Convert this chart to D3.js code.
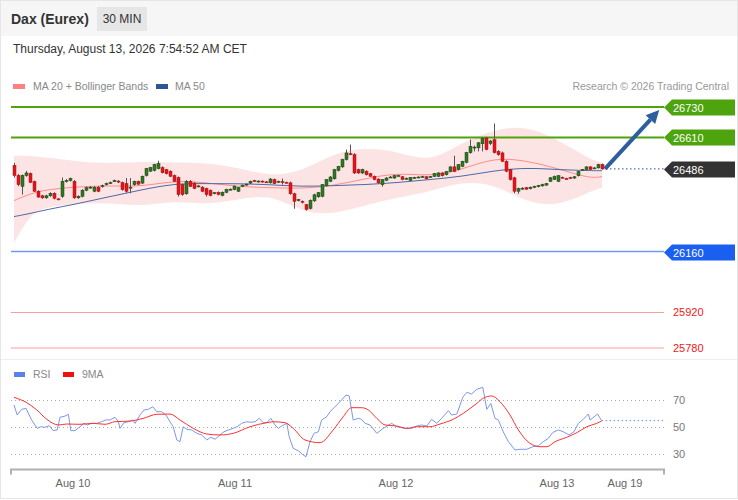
<!DOCTYPE html>
<html>
<head>
<meta charset="utf-8">
<script src="https://cdn.jsdelivr.net/npm/d3@7/dist/d3.min.js"></script>
<style>
  body { margin: 0; background: #fff; font-family: "Liberation Sans", Arial, sans-serif; }
</style>
</head>
<body>
<svg id="chart" width="738" height="500"></svg>
<script>
// 30 min candles, [open, high, low, close]
const candles = [
  [26500,26510,26452,26460],[26460,26466,26418,26424],[26417,26464,26385,26460],[26460,26478,26455,26470],
  [26468,26472,26430,26433],[26436,26440,26396,26398],[26398,26402,26372,26375],[26380,26384,26368,26372],
  [26372,26384,26368,26380],[26380,26394,26376,26390],[26390,26394,26366,26370],[26368,26370,26362,26366],
  [26378,26452,26372,26437],[26437,26446,26432,26440],[26440,26452,26436,26448],[26437,26442,26368,26372],
  [26372,26382,26368,26378],[26378,26406,26374,26402],[26402,26416,26398,26412],[26412,26418,26408,26414],
  [26398,26418,26394,26414],[26414,26418,26394,26398],[26416,26424,26412,26420],[26424,26432,26420,26428],
  [26430,26436,26426,26432],[26438,26444,26434,26440],[26438,26442,26430,26435],[26432,26436,26400,26404],
  [26428,26450,26392,26398],[26410,26450,26390,26414],[26424,26440,26420,26437],[26437,26440,26422,26426],
  [26430,26460,26426,26457],[26460,26490,26456,26487],[26477,26494,26474,26491],[26480,26506,26476,26503],
  [26487,26518,26484,26507],[26491,26496,26468,26471],[26483,26486,26464,26467],[26477,26480,26454,26457],
  [26460,26464,26434,26437],[26452,26456,26377,26385],[26424,26428,26380,26385],[26388,26442,26384,26437],
  [26437,26442,26414,26417],[26430,26434,26406,26409],[26417,26422,26413,26419],[26414,26418,26394,26398],
  [26409,26412,26377,26385],[26402,26405,26378,26381],[26390,26395,26386,26392],[26394,26397,26382,26385],
  [26381,26397,26378,26394],[26394,26408,26390,26405],[26405,26409,26401,26406],[26405,26421,26402,26418],
  [26398,26415,26395,26412],[26417,26424,26414,26422],[26424,26429,26420,26426],[26430,26440,26427,26437],
  [26440,26443,26434,26437],[26436,26441,26433,26438],[26438,26440,26432,26435],[26435,26438,26431,26434],
  [26431,26450,26428,26446],[26444,26448,26426,26428],[26434,26440,26431,26437],[26436,26448,26424,26435],
  [26433,26436,26429,26432],[26431,26436,26384,26388],[26388,26392,26329,26358],[26362,26368,26358,26365],
  [26358,26362,26350,26354],[26345,26348,26322,26326],[26330,26366,26326,26362],[26360,26388,26356,26384],
  [26376,26395,26372,26392],[26378,26426,26374,26424],[26420,26446,26416,26444],[26437,26458,26434,26454],
  [26447,26486,26444,26483],[26480,26498,26476,26496],[26494,26526,26490,26523],[26523,26562,26519,26549],
  [26546,26582,26540,26545],[26542,26548,26466,26470],[26483,26487,26466,26470],[26470,26487,26466,26483],
  [26477,26480,26460,26463],[26467,26470,26455,26457],[26457,26460,26441,26444],[26446,26449,26428,26431],
  [26424,26446,26416,26444],[26441,26454,26438,26450],[26452,26458,26450,26454],[26450,26462,26447,26459],
  [26459,26463,26456,26460],[26455,26458,26441,26444],[26447,26452,26444,26449],[26440,26454,26438,26452],
  [26450,26455,26448,26452],[26452,26457,26450,26454],[26455,26459,26452,26456],[26455,26458,26444,26447],
  [26454,26458,26451,26456],[26457,26470,26454,26467],[26457,26473,26454,26470],[26470,26473,26456,26459],
  [26463,26478,26460,26475],[26476,26496,26473,26494],[26494,26538,26473,26476],[26483,26505,26480,26503],
  [26496,26518,26493,26516],[26512,26553,26508,26550],[26550,26602,26546,26575],[26571,26578,26555,26572],
  [26569,26592,26555,26589],[26585,26610,26555,26606],[26608,26612,26560,26562],[26586,26600,26580,26596],
  [26601,26665,26547,26550],[26555,26560,26538,26542],[26549,26554,26513,26516],[26516,26520,26473,26477],
  [26483,26486,26440,26444],[26451,26455,26390,26398],[26398,26412,26388,26408],[26408,26414,26404,26410],
  [26412,26415,26404,26406],[26408,26416,26405,26414],[26413,26420,26410,26417],[26416,26423,26413,26420],
  [26419,26428,26416,26424],[26422,26431,26420,26428],[26437,26454,26434,26451],[26444,26460,26442,26456],
  [26437,26462,26434,26459],[26453,26456,26448,26450],[26448,26451,26444,26446],[26452,26455,26447,26450],
  [26450,26458,26446,26455],[26459,26478,26456,26476],[26480,26486,26478,26483],[26483,26496,26480,26494],
  [26494,26497,26480,26483],[26488,26493,26486,26490],[26490,26506,26488,26503],[26503,26507,26484,26486]
];

// indicator lines, read at these candle indexes
const bandIdx   = [0,4,8,16,24,32,40,48,56,64,72,80,88,96,104,112,120,128,136,144,147];
const bandUpper = [26538,26538,26531,26515,26507,26515,26511,26511,26491,26456,26475,26550,26570,26554,26511,26590,26641,26657,26602,26523,26511];
const bandLower = [26195,26306,26337,26349,26353,26337,26361,26345,26365,26388,26314,26306,26345,26373,26396,26436,26428,26353,26339,26396,26412];
const ma20      = [26361,26388,26404,26416,26420,26416,26440,26432,26416,26412,26408,26420,26448,26471,26456,26483,26531,26519,26487,26448,26456];
const ma50      = [26298,26310,26325,26349,26377,26404,26428,26428,26428,26424,26416,26420,26424,26432,26444,26456,26479,26491,26483,26479,26479];

// RSI and its 9 period average
const rsiIdx = [0,0.8,1.9,3,4.4,5.8,6.7,7.75,8.8,9.8,10.8,11.5,12.75,13.6,14.2,15.25,16.5,17.5,18.3,19.4,20.7,21.9,23,24,25.25,26.1,26.5,27.5,28.6,29.7,30.25,31.5,32.5,33.6,34.7,35.7,36.9,38,39,39.8,40.7,41.5,42.3,43.2,44.4,45.7,46.9,48.2,49.2,50.25,51.5,52.5,53.6,54.8,55.8,56.9,58.2,59.2,60.25,61.3,62.3,63.2,64.2,65.25,66.1,66.9,68.2,68.8,69.8,71.1,72.3,73,74,75,76.1,76.9,78.2,79,80.25,81.1,81.9,83,83.8,84.8,86.1,86.9,87.75,89,90.7,92.3,94.4,95.7,97.75,99.4,100.7,101.9,103.2,104.4,105.7,106.9,108.6,109.4,110.7,112.2,113.2,114.4,115.7,117.2,118.2,119.2,120.25,121.1,122.3,123.6,125.25,126.5,128.2,129.7,131.1,132.3,133.6,134.7,136.1,137.3,138.8,140,141.1,142.3,143.6,144,145.9,146.9];
const rsiVal = [66.3,58.9,63.1,63.8,55.2,49.0,50.2,49.8,51.0,47.3,47.8,57.2,58.1,59.4,47.3,47.3,50.2,52.7,51.5,52.7,52.7,53.9,55.2,55.2,57.2,53.9,49.0,53.2,53.9,55.2,52.7,58.9,62.6,63.1,65.0,61.3,61.3,58.9,53.9,50.2,40.4,39.1,50.2,48.3,47.8,45.3,44.1,40.4,42.4,40.9,44.1,46.5,47.8,49.0,50.2,52.7,53.9,53.5,53.9,56.4,53.2,53.2,56.4,51.5,49.0,50.7,52.7,42.8,34.2,32.4,29.3,28.0,39.1,45.3,46.5,55.2,57.6,61.3,65.0,67.5,70.0,73.7,73.0,55.2,56.4,55.7,52.7,51.5,45.3,49.0,52.7,50.2,49.0,49.0,50.7,51.5,50.7,55.7,52.7,56.4,62.1,58.9,59.6,72.0,75.7,74.4,77.9,79.4,63.1,67.5,56.4,55.2,46.5,39.1,33.0,33.5,33.5,35.4,36.1,39.1,41.6,46.0,47.8,46.5,44.1,46.5,52.7,55.7,59.6,55.2,59.6,54.7];
const maRsiIdx = [0,3.2,5.7,8.2,11.1,13.2,16.5,19.8,22.75,25.25,29,32.3,35.7,39,41.5,44.8,48.2,51.5,54.8,59,63.2,64.8,67.75,69.8,72.75,76.5,79.8,82.3,84.4,86.9,88.6,90.7,92.75,95.7,98.2,100.7,104,106.5,109.8,112.3,115.7,117.3,119.4,121.5,124,126.1,129,131.5,133.2,135.25,138.2,140.7,143.2,145.7,146.9];
const maRsiVal = [72.0,68.0,62.6,55.7,51.5,52.2,52.0,52.7,52.0,53.9,54.4,56.4,59.4,59.6,55.2,49.0,44.8,44.1,45.3,50.2,53.2,53.9,53.2,49.0,40.4,38.4,47.8,57.6,64.3,64.3,62.6,56.4,51.5,50.7,49.0,50.2,50.2,52.2,55.7,60.1,67.5,71.3,73.0,68.7,58.9,47.8,37.9,35.4,35.4,39.1,42.4,45.8,50.2,52.7,54.4];
const rsiLevels = [70, 50, 30];

// key levels
const resistances = [26730, 26610];
const supports = [26160];
const lowerLevels = [25920, 25780];
const lastPrice = 26486;
const target = 26730;

const dayLabels = ["Aug 10", "Aug 11", "Aug 12", "Aug 13", "Aug 19"];
const dayIdx = [14.75, 55.25, 95.5, 135.75, 152.75];

const svg = d3.select('#chart');
const W = 738, H = 500;
const left = 11, right = 664;

// frame + header
svg.append('rect').attr('x', 0.5).attr('y', 0.5).attr('width', W - 1).attr('height', H - 2)
  .attr('fill', '#fff').attr('stroke', '#e6e6e6');
svg.append('rect').attr('x', 1).attr('y', 1).attr('width', W - 2).attr('height', 35).attr('fill', '#f6f6f6');
svg.append('text').attr('x', 11).attr('y', 24).attr('font-size', 14).attr('font-weight', 'bold')
  .attr('fill', '#333').text('Dax (Eurex)');
svg.append('rect').attr('x', 97).attr('y', 7).attr('width', 50).attr('height', 24).attr('fill', '#e6e6e6');
svg.append('text').attr('x', 122).attr('y', 23).attr('text-anchor', 'middle').attr('font-size', 12)
  .attr('fill', '#333').text('30 MIN');
svg.append('text').attr('x', 13).attr('y', 53).attr('font-size', 12).attr('fill', '#333')
  .text('Thursday, August 13, 2026 7:54:52 AM CET');

// legend
svg.append('rect').attr('x', 13).attr('y', 84).attr('width', 12).attr('height', 5).attr('fill', '#ff8080');
svg.append('text').attr('x', 33).attr('y', 90).attr('font-size', 10.5).attr('fill', '#888').text('MA 20 + Bollinger Bands');
svg.append('rect').attr('x', 156).attr('y', 84).attr('width', 12).attr('height', 5).attr('fill', '#2f5597');
svg.append('text').attr('x', 175).attr('y', 90).attr('font-size', 10.5).attr('fill', '#888').text('MA 50');
svg.append('text').attr('x', 729).attr('y', 90).attr('text-anchor', 'end').attr('font-size', 10.5)
  .attr('fill', '#999').text('Research \u00a9 2026 Trading Central');

const x = d3.scaleLinear().domain([-0.75, 162.5]).range([left, right]);
const y = d3.scaleLinear().domain([25780, 26730]).range([348, 107]);
const yr = d3.scaleLinear().domain([30, 70]).range([454, 400]);

// bollinger band
const bandData = bandIdx.map((d, i) => ({ i: d, hi: bandUpper[i], lo: bandLower[i], m20: ma20[i], m50: ma50[i] }));
svg.append('path').datum(bandData)
  .attr('d', d3.area().x(d => x(d.i)).y0(d => y(d.lo)).y1(d => y(d.hi)).curve(d3.curveBasis))
  .attr('fill', '#fde3e3').attr('opacity', 0.95);

// level lines
const levelG = svg.append('g');
function tag(price, fill) {
  const yy = Math.round(y(price)) + 0.5;
  levelG.append('path')
    .attr('d', `M${right},${yy} L${right + 8},${yy - 8} L735,${yy - 8} L735,${yy + 8} L${right + 8},${yy + 8} Z`)
    .attr('fill', fill);
  levelG.append('text').attr('x', 673).attr('y', yy + 4).attr('font-size', 11).attr('fill', '#fff').text(price);
}
resistances.forEach(p => {
  levelG.append('line').attr('x1', left).attr('x2', right).attr('y1', y(p)).attr('y2', y(p))
    .attr('stroke', '#4ea40c').attr('stroke-width', 2);
  tag(p, '#4ea40c');
});
supports.forEach(p => {
  levelG.append('line').attr('x1', left).attr('x2', right).attr('y1', y(p)).attr('y2', y(p))
    .attr('stroke', '#6f9af5').attr('stroke-width', 1.5);
  tag(p, '#1b5ff0');
});
lowerLevels.forEach(p => {
  levelG.append('line').attr('x1', left).attr('x2', right).attr('y1', y(p)).attr('y2', y(p))
    .attr('stroke', '#ff9b9b').attr('stroke-width', 1.2);
  levelG.append('text').attr('x', 673).attr('y', y(p) + 4).attr('font-size', 11).attr('fill', '#f01818').text(p);
});
levelG.append('line').attr('x1', x(candles.length - 1)).attr('x2', right)
  .attr('y1', y(lastPrice)).attr('y2', y(lastPrice))
  .attr('stroke', '#4f6fa8').attr('stroke-width', 1.2).attr('stroke-dasharray', '1.5,2.5');
tag(lastPrice, '#333333');

// moving averages
const smooth = d3.line().curve(d3.curveBasis).x(d => x(d.i));
svg.append('path').datum(bandData).attr('d', smooth.y(d => y(d.m20)))
  .attr('fill', 'none').attr('stroke', '#ff8c8c').attr('stroke-width', 1);
svg.append('path').datum(bandData).attr('d', smooth.y(d => y(d.m50)))
  .attr('fill', 'none').attr('stroke', '#4a6aa8').attr('stroke-width', 1);

// candles
const cg = svg.append('g');
candles.forEach((c, i) => {
  const [o, h, l, cl] = c;
  const up = cl >= o;
  const cx = Math.round(x(i)) + 0.5;
  cg.append('line').attr('x1', cx).attr('x2', cx).attr('y1', y(h)).attr('y2', y(l))
    .attr('stroke', '#555').attr('stroke-width', 1);
  const top = y(Math.max(o, cl)), bot = y(Math.min(o, cl));
  cg.append('rect').attr('x', cx - 1.5).attr('y', top).attr('width', 3).attr('height', Math.max(1, bot - top))
    .attr('fill', up ? '#2d7a22' : '#e3141b').attr('stroke', up ? '#1d3d14' : '#a51014').attr('stroke-width', 0.5);
});

// target arrow
const ax0 = x(candles.length - 1) + 3, ay0 = y(lastPrice);
const ax1 = x(161.3), ay1 = y(target) + 3;
const ang = Math.atan2(ay1 - ay0, ax1 - ax0);
const hl = 13, hw = 6.5;
const bx = ax1 - hl * Math.cos(ang), by = ay1 - hl * Math.sin(ang);
svg.append('line').attr('x1', ax0).attr('y1', ay0).attr('x2', bx).attr('y2', by)
  .attr('stroke', '#2d5e9e').attr('stroke-width', 4);
svg.append('path')
  .attr('d', `M${ax1},${ay1} L${bx + hw * Math.sin(ang)},${by - hw * Math.cos(ang)} L${bx - hw * Math.sin(ang)},${by + hw * Math.cos(ang)} Z`)
  .attr('fill', '#2d5e9e');

// panel separator
svg.append('line').attr('x1', 1).attr('x2', W - 1).attr('y1', 359.5).attr('y2', 359.5).attr('stroke', '#eeeeee');

// RSI panel
svg.append('rect').attr('x', 14).attr('y', 372).attr('width', 11).attr('height', 5).attr('fill', '#5b82e6');
svg.append('text').attr('x', 33).attr('y', 378).attr('font-size', 10.5).attr('fill', '#888').text('RSI');
svg.append('rect').attr('x', 63).attr('y', 372).attr('width', 11).attr('height', 5).attr('fill', '#f01010');
svg.append('text').attr('x', 82).attr('y', 378).attr('font-size', 10.5).attr('fill', '#888').text('9MA');

rsiLevels.forEach(v => {
  svg.append('line').attr('x1', left).attr('x2', right).attr('y1', yr(v) + 0.5).attr('y2', yr(v) + 0.5)
    .attr('stroke', '#aaa').attr('stroke-dasharray', '1,3');
  svg.append('text').attr('x', 673).attr('y', yr(v) + 4).attr('font-size', 11).attr('fill', '#777').text(v);
});

const rsiData = rsiIdx.map((d, i) => ({ i: d, v: rsiVal[i] }));
const maRsiData = maRsiIdx.map((d, i) => ({ i: d, v: maRsiVal[i] }));
svg.append('path').datum(rsiData)
  .attr('d', d3.line().x(d => x(d.i)).y(d => yr(d.v)))
  .attr('fill', 'none').attr('stroke', '#7b98ea').attr('stroke-width', 1);
svg.append('path').datum(maRsiData)
  .attr('d', d3.line().curve(d3.curveMonotoneX).x(d => x(d.i)).y(d => yr(d.v)))
  .attr('fill', 'none').attr('stroke', '#ff3030').attr('stroke-width', 1);
const lastRsi = rsiVal[rsiVal.length - 1];
svg.append('line').attr('x1', x(rsiIdx[rsiIdx.length - 1])).attr('x2', right)
  .attr('y1', yr(lastRsi)).attr('y2', yr(lastRsi))
  .attr('stroke', '#6f8fe6').attr('stroke-dasharray', '1.5,2.5');

// time axis
const axis = svg.append('g').attr('transform', 'translate(0,469.5)');
axis.append('path').attr('d', `M${left},5 V0 H${right} V5`).attr('fill', 'none').attr('stroke', '#b0b0b0').attr('stroke-width', 2);
dayLabels.forEach((t, i) => {
  axis.append('text').attr('x', x(dayIdx[i])).attr('y', 17.5).attr('text-anchor', 'middle')
    .attr('font-size', 11).attr('fill', '#666').text(t);
});
</script>
</body>
</html>
